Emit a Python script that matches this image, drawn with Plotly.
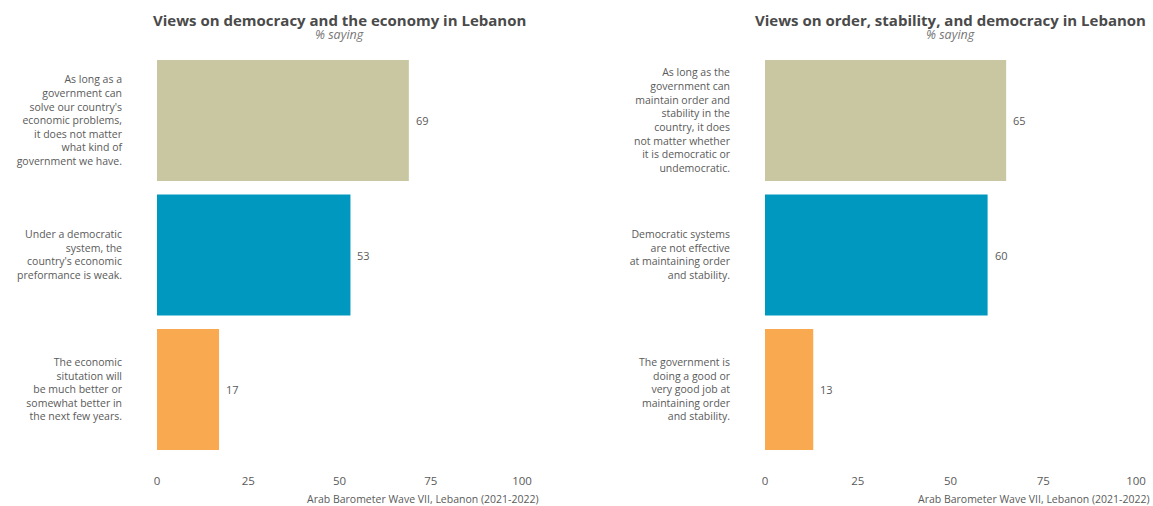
import plotly.graph_objects as go

# left panel
econ_labels = [
    "As long as a<br>government can<br>solve our country's<br>economic problems,<br>it does not matter<br>what kind of<br>government we have.",
    "Under a democratic<br>system, the<br>country's economic<br>preformance is weak.",
    "The economic<br>situtation will<br>be much better or<br>somewhat better in<br>the next few years.",
]
econ_values = [69, 53, 17]

# right panel
order_labels = [
    "As long as the<br>government can<br>maintain order and<br>stability in the<br>country, it does<br>not matter whether<br>it is democratic or<br>undemocratic.",
    "Democratic systems<br>are not effective<br>at maintaining order<br>and stability.",
    "The government is<br>doing a good or<br>very good job at<br>maintaining order<br>and stability.",
]
order_values = [65, 60, 13]

x_ticks = [0, 25, 50, 75, 100]
bar_colors = ["#C8C7A1", "#0098BF", "#F9A94F"]
titles = ["Views on democracy and the economy in Lebanon",
          "Views on order, stability, and democracy in Lebanon"]
caption = "Arab Barometer Wave VII, Lebanon (2021-2022)"

FONT = "Open Sans"
GREY = "#5a5a5a"
W, H = 1153, 506

panels = [
    (econ_labels, econ_values, [157 / W, 522 / W], "x", "y", 541 / W),
    (order_labels, order_values, [765 / W, 1136 / W], "x2", "y2", 1152 / W),
]
y_dom = [(H - 470.2) / H, (H - 39.8) / H]

fig = go.Figure()
annotations = []
for i, (labels, values, xdom, xa, ya, cap_x) in enumerate(panels):
    fig.add_trace(go.Bar(
        x=values, y=labels, orientation="h", width=0.9,
        marker=dict(color=bar_colors, line=dict(width=0)),
        xaxis=xa, yaxis=ya, hoverinfo="x+y",
    ))
    for lab, v in zip(labels, values):
        annotations.append(dict(
            x=v, y=lab, xref=xa, yref=ya, text=str(v), showarrow=False,
            xanchor="left", xshift=5, font=dict(family=FONT, size=11, color=GREY),
        ))
    cx = (xdom[0] + xdom[1]) / 2
    annotations.append(dict(
        x=cx, y=1 - 19.5 / H, xref="paper", yref="paper", text="<b>" + titles[i] + "</b>",
        showarrow=False, xanchor="center", yanchor="middle",
        font=dict(family=FONT, size=15, color="#4a4a4a"),
    ))
    annotations.append(dict(
        x=cx, y=1 - 34 / H, xref="paper", yref="paper", text="<i>% saying</i>",
        showarrow=False, xanchor="center", yanchor="middle",
        font=dict(family=FONT, size=12.5, color="#777777"),
    ))
    annotations.append(dict(
        x=cap_x, y=1 - 499 / H, xref="paper", yref="paper", text=caption,
        showarrow=False, xanchor="right", yanchor="middle",
        font=dict(family=FONT, size=10.5, color=GREY),
    ))

    ax = dict(domain=xdom, range=[0, 100], tickvals=x_ticks, showgrid=False,
              zeroline=False, showline=False, ticks="", automargin=False,
              ticklabelstandoff=2,
              tickfont=dict(family=FONT, size=11.5, color=GREY))
    ay = dict(domain=y_dom, range=[2.6, -0.6], showgrid=False, zeroline=False,
              showline=False, ticks="", automargin=False, ticklabelstandoff=34,
              tickfont=dict(family=FONT, size=10.5, color=GREY))
    if i == 0:
        fig.update_layout(xaxis=dict(ax, anchor="y"), yaxis=dict(ay, anchor="x"))
    else:
        fig.update_layout(xaxis2=dict(ax, anchor="y2"), yaxis2=dict(ay, anchor="x2"))

fig.update_layout(
    width=W, height=H,
    template="simple_white",
    plot_bgcolor="white", paper_bgcolor="white",
    margin=dict(l=0, r=0, t=0, b=0),
    showlegend=False,
    annotations=annotations,
    font=dict(family=FONT, color=GREY),
)

# the page's default body margin would push the figure 8px off the window
fig.write_html("out.html", config={"displayModeBar": False},
               post_script="document.body.style.margin='0px';")
